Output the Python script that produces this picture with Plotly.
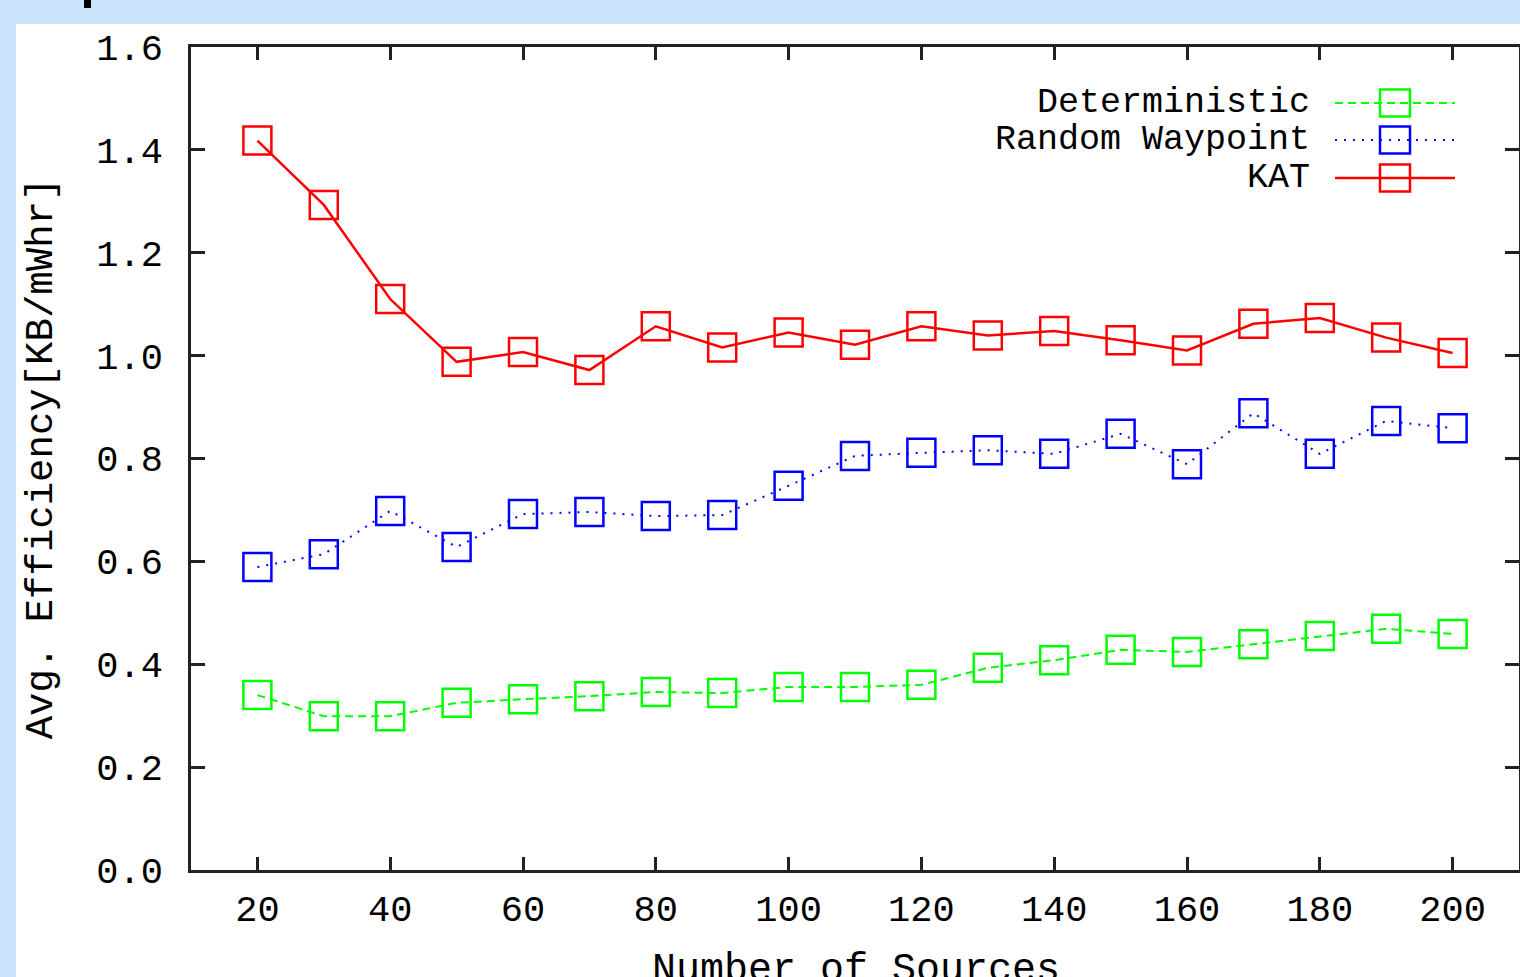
import plotly.graph_objects as go

# ---------------- data ----------------
sources = [20, 30, 40, 50, 60, 70, 80, 90, 100, 110, 120, 130, 140, 150, 160, 170, 180, 190, 200]
kat = [1.418, 1.293, 1.110, 0.988, 1.007, 0.972, 1.057, 1.016, 1.045, 1.021, 1.057, 1.039, 1.048, 1.030, 1.010, 1.062, 1.073, 1.035, 1.005]
random_waypoint = [0.589, 0.614, 0.698, 0.628, 0.692, 0.696, 0.688, 0.690, 0.747, 0.805, 0.811, 0.816, 0.809, 0.848, 0.789, 0.888, 0.809, 0.873, 0.859]
deterministic = [0.340, 0.299, 0.299, 0.325, 0.332, 0.338, 0.346, 0.344, 0.356, 0.356, 0.360, 0.393, 0.408, 0.428, 0.424, 0.439, 0.455, 0.469, 0.459]

series_names = ["Deterministic", "Random Waypoint", "KAT"]
x_ticks = [20, 40, 60, 80, 100, 120, 140, 160, 180, 200]
y_ticks = [0.0, 0.2, 0.4, 0.6, 0.8, 1.0, 1.2, 1.4, 1.6]
y_tick_labels = ["0.0", "0.2", "0.4", "0.6", "0.8", "1.0", "1.2", "1.4", "1.6"]
x_title = "Number of Sources"
y_title = "Avg. Efficiency[KB/mWhr]"

# ---------------- styles ----------------
FONT = "Liberation Mono, Courier New, monospace"
W, H = 1520, 977
L, R, T, B = 191, 1, 47, 107
PW, PH = W - L - R, H - T - B

GREEN, BLUE, RED = "#00ff00", "#0000ff", "#ff0000"
styles = {
    "Deterministic": dict(color=GREEN, dash="8px,5px", width=2),
    "Random Waypoint": dict(color=BLUE, dash="2px,7px", width=2),
    "KAT": dict(color=RED, dash="solid", width=2.5),
}
values = {"Deterministic": deterministic, "Random Waypoint": random_waypoint, "KAT": kat}


def px_x(px):
    return (px - L) / PW


def px_y(py):
    return (H - B - py) / PH


fig = go.Figure()
for name in series_names:
    st = styles[name]
    fig.add_trace(go.Scatter(
        x=sources, y=values[name], mode="lines+markers", name=name,
        line=dict(color=st["color"], dash=st["dash"], width=st["width"]),
        marker=dict(symbol="square-open", size=28, color=st["color"],
                    line=dict(color=st["color"], width=2.5)),
        showlegend=False, cliponaxis=False,
    ))

shapes = []
annotations = []
# white page area over light-blue background
shapes.append(dict(type="rect", xref="paper", yref="paper", layer="below",
                   x0=px_x(16), x1=px_x(1530), y0=px_y(24), y1=px_y(990),
                   fillcolor="white", line=dict(width=0)))
# small black artifact at top
shapes.append(dict(type="rect", xref="paper", yref="paper", layer="above",
                   x0=px_x(84), x1=px_x(91), y0=px_y(0), y1=px_y(8),
                   fillcolor="black", line=dict(width=0)))

# manual gnuplot-style legend (text right, sample to its right)
legend_rows = [103, 140, 178]
for name, ry in zip(series_names, legend_rows):
    st = styles[name]
    annotations.append(dict(xref="paper", yref="paper", x=px_x(1312), y=px_y(ry),
                            xanchor="right", yanchor="middle", showarrow=False,
                            text=name, font=dict(family=FONT, size=35, color="black")))
    shapes.append(dict(type="line", xref="paper", yref="paper",
                       x0=px_x(1335), x1=px_x(1455), y0=px_y(ry), y1=px_y(ry),
                       line=dict(color=st["color"], dash=st["dash"], width=st["width"])))
    shapes.append(dict(type="rect", xref="paper", yref="paper",
                       x0=px_x(1380), x1=px_x(1410), y0=px_y(ry - 13.5), y1=px_y(ry + 13.5),
                       line=dict(color=st["color"], width=2.5)))

# x-axis title (partly cut off by the bottom edge, as in the reference)
annotations.append(dict(xref="paper", yref="paper", x=px_x(856), y=px_y(970),
                        xanchor="center", yanchor="middle", showarrow=False,
                        text=x_title, font=dict(family=FONT, size=40, color="black")))

fig.update_layout(
    width=W, height=H,
    margin=dict(l=L, r=R, t=T, b=B, pad=0),
    paper_bgcolor="#c9e4fb",
    plot_bgcolor="white",
    font=dict(family=FONT, color="black"),
    shapes=shapes,
    annotations=annotations,
)
fig.update_xaxes(
    range=[10, 210], tickvals=x_ticks, ticks="inside", ticklen=13, tickwidth=2.5,
    tickcolor="#222", showline=True, linecolor="#222", linewidth=2.5, mirror="ticks",
    showgrid=False, zeroline=False, tickfont=dict(family=FONT, size=37, color="black"),
    ticklabelstandoff=4, automargin=False,
)
fig.update_yaxes(
    range=[0, 1.6], tickvals=y_ticks, ticktext=y_tick_labels, ticks="inside", ticklen=14,
    tickwidth=2.5, tickcolor="#222", showline=True, linecolor="#222", linewidth=2.5,
    mirror="ticks", showgrid=False, zeroline=False, automargin=False,
    tickfont=dict(family=FONT, size=37, color="black"), ticklabelstandoff=18,
    title=dict(text=y_title, font=dict(family=FONT, size=39, color="black"), standoff=32),
)

fig.write_html(
    "out.html",
    config={"displayModeBar": False},
    post_script="document.body.style.margin='0';document.body.style.overflow='hidden';",
)
